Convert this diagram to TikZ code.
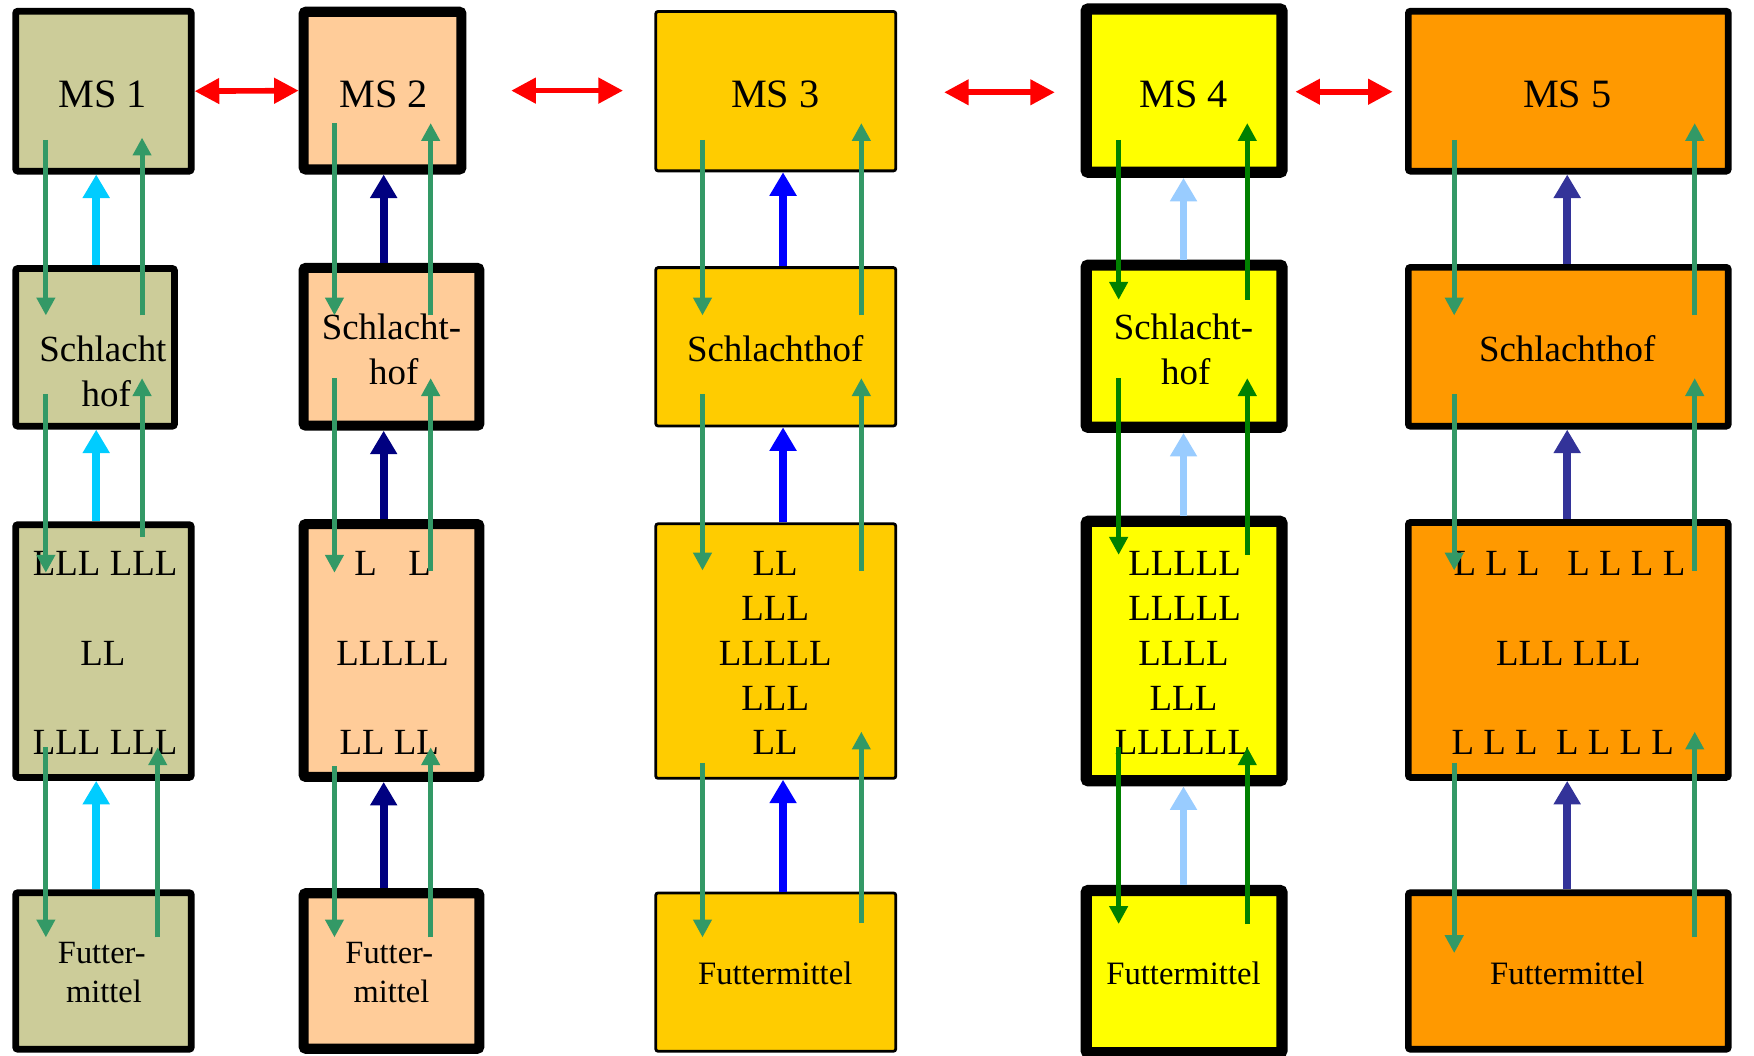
\documentclass[tikz,border=0pt]{standalone}
\usepackage{fontspec}
\setmainfont{Liberation Serif}
\usetikzlibrary{arrows.meta}
\definecolor{fillA}{HTML}{CCCC99}
\definecolor{fillB}{HTML}{FFCC99}
\definecolor{fillC}{HTML}{FFCC00}
\definecolor{fillD}{HTML}{FFFF00}
\definecolor{fillE}{HTML}{FF9900}
\definecolor{seaG}{HTML}{339966}
\definecolor{darkG}{HTML}{008000}
\definecolor{cyanA}{HTML}{00CCFF}
\definecolor{navyA}{HTML}{000080}
\definecolor{blueA}{HTML}{0000FF}
\definecolor{lblueA}{HTML}{99CCFF}
\definecolor{indA}{HTML}{333399}
\newcommand\bx[7]{%
  \pgfmathsetmacro\bcx{(#2+#4)/2}%
  \pgfmathsetmacro\bcy{(#3+#5)/2}%
  \pgfmathsetmacro\bww{(#4-#2-#6)*0.5}%
  \pgfmathsetmacro\bhh{(#5-#3-#6)*0.5}%
  \pgfmathsetmacro\blw{#6*0.5}%
  \node[draw, fill=#7, line width=\blw pt, rounded corners=1pt, minimum width=\bww pt, minimum height=\bhh pt, inner sep=0pt] (#1) at (\bcx,\bcy) {};%
}
\begin{document}
\begin{tikzpicture}[x=0.5pt,y=-0.5pt,
  tx/.style={inner sep=0pt, font=\fontsize{16.5}{20}\selectfont},
  mstx/.style={inner sep=0pt, font=\fontsize{18}{20}\selectfont},
  ftx/.style={inner sep=0pt, font=\fontsize{14.5}{17}\selectfont},
  ftxb/.style={inner sep=0pt, font=\fontsize{14.6}{18}\selectfont},
  gr/.style={draw=seaG, line width=2.2pt, -{Triangle[width=8pt,length=8pt]}},
  dg/.style={draw=darkG, line width=2.2pt, -{Triangle[width=8pt,length=8pt]}},
  fat/.style={draw=#1, line width=3.5pt, -{Triangle[width=11.5pt,length=10.5pt]}},
  redarr/.style={draw=red, line width=2.5pt, {Triangle[width=11pt,length=11pt]}-{Triangle[width=11pt,length=11pt]}}
]
\useasboundingbox (0,0) rectangle (1568,944);
% ---------- boxes ----------
\bx{m1}{11}{7}{174}{156}{6}{fillA}
\bx{s1}{11}{237}{159}{384}{6}{fillA}
\bx{l1}{11}{466}{174}{698}{6}{fillA}
\bx{f1}{11}{795}{174}{941}{6}{fillA}
\bx{m2}{267}{6}{417}{156}{9}{fillB}
\bx{s2}{267}{235}{433}{385}{9}{fillB}
\bx{l2}{267}{464}{433}{699}{9}{fillB}
\bx{f2}{267}{794}{433}{942}{9}{fillB}
\bx{m3}{585}{9}{802}{154}{2.5}{fillC}
\bx{s3}{585}{238}{802}{382}{2.5}{fillC}
\bx{l3}{585}{467}{802}{697}{2.5}{fillC}
\bx{f3}{585}{797}{802}{941}{2.5}{fillC}
\bx{m4}{966}{3}{1151}{159}{10}{fillD}
\bx{s4}{966}{232}{1151}{387}{10}{fillD}
\bx{l4}{966}{461}{1151}{703}{10}{fillD}
\bx{f4}{966}{791}{1151}{946}{10}{fillD}
\bx{m5}{1256}{7}{1548}{156}{6}{fillE}
\bx{s5}{1256}{236}{1548}{384}{6}{fillE}
\bx{l5}{1256}{464}{1548}{698}{6}{fillE}
\bx{f5}{1256}{795}{1548}{941}{6}{fillE}
% ---------- texts ----------
\node[mstx] (t1) at (92,84) {MS 1};
\node[tx] (t1a) at (92,312) {Schlacht};
\node[tx] (t1b) at (95,352) {hof};
\node[tx] (t1c) at (94,504) {LLL LLL};
\node[tx] (t1d) at (92,584) {LL};
\node[tx] (t1e) at (94,664) {LLL LLL};
\node[ftx] (t1f) at (91,852) {Futter-};
\node[ftx] (t1g) at (93,886) {mittel};
\node[mstx] (t2) at (343,84) {MS 2};
\node[tx] (t2a) at (350,292) {Schlacht-};
\node[tx] (t2b) at (352,332) {hof};
\node[tx] (t2c) at (351,504) {L\hspace{14pt}L};
\node[tx] (t2d) at (351,584) {LLLLL};
\node[tx] (t2e) at (348,664) {LL LL};
\node[ftx] (t2f) at (348,852) {Futter-};
\node[ftx] (t2g) at (350,886) {mittel};
\node[mstx] (t3) at (693,84) {MS 3};
\node[tx] (t3a) at (693,312) {Schlachthof};
\node[tx] (t3c) at (693,504) {LL};
\node[tx] (t3d) at (693,544) {LLL};
\node[tx] (t3e) at (693,584) {LLLLL};
\node[tx] (t3f) at (693,624) {LLL};
\node[tx] (t3g) at (693,664) {LL};
\node[ftxb] (t3h) at (693,870) {Futtermittel};
\node[mstx] (t4) at (1058,84) {MS 4};
\node[tx] (t4a) at (1058,292) {Schlacht-};
\node[tx] (t4b) at (1060,332) {hof};
\node[tx] (t4c) at (1059,504) {LLLLL};
\node[tx] (t4d) at (1059,544) {LLLLL};
\node[tx] (t4e) at (1058,584) {LLLL};
\node[tx] (t4f) at (1058,624) {LLL};
\node[tx] (t4g) at (1057,664) {LLLLLL};
\node[ftxb] (t4h) at (1058,870) {Futtermittel};
\node[mstx] (t5) at (1401,84) {MS 5};
\node[tx] (t5a) at (1401,312) {Schlachthof};
\node[tx] (t5c) at (1403,504) {L L L\ \ \ L L L L};
\node[tx] (t5d) at (1402,584) {LLL LLL};
\node[tx] (t5e) at (1397,664) {L L L\ \ L L L L};
\node[ftxb] (t5h) at (1401,870) {Futtermittel};
% ---------- red arrows ----------
\draw[redarr] (m1.east) -- (m2.west);
\draw[redarr, shorten <=20pt, shorten >=14pt] (m2.east) -- (m2.east -| m3.west);
\draw[redarr, shorten <=21pt, shorten >=11.5pt] ([yshift=-0.5pt]m3.east) -- ([yshift=-0.5pt]m3.east -| m4.west);
\draw[redarr, shorten <=3.5pt, shorten >=5.5pt] ([yshift=-0.5pt]m4.east -| m4.east) -- ([yshift=-0.5pt]m4.east -| m5.west);
% ---------- thick vertical arrows ----------
\coordinate (x1) at (86,0);
\coordinate (x2) at (343,0);
\coordinate (x3) at (700,0);
\coordinate (x4) at (1058,0);
\coordinate (x5) at (1401,0);
\foreach \c/\col in {1/cyanA,2/navyA,3/blueA,4/lblueA,5/indA}{
  \draw[fat=\col] (x\c |- s\c.north) -- (x\c |- m\c.south);
  \draw[fat=\col] (x\c |- l\c.north) -- (x\c |- s\c.south);
  \draw[fat=\col] (x\c |- f\c.north) -- (x\c |- l\c.south);
}
% ---------- green arrows ----------
% column 1
\draw[gr] (41,125) -- (41,282);
\draw[gr] (127,282) -- (127,123);
\draw[gr] (41,352) -- (41,512);
\draw[gr] (127,480) -- (127,338);
\draw[gr] (41,668) -- (41,838);
\draw[gr] (141,838) -- (141,668);
% column 2
\draw[gr] (299,110) -- (299,282);
\draw[gr] (385,282) -- (385,110);
\draw[gr] (299,338) -- (299,512);
\draw[gr] (385,510) -- (385,338);
\draw[gr] (299,685) -- (299,838);
\draw[gr] (385,838) -- (385,668);
% column 3
\draw[gr] (628,125) -- (628,282);
\draw[gr] (770,282) -- (770,110);
\draw[gr] (628,352) -- (628,510);
\draw[gr] (770,510) -- (770,338);
\draw[gr] (628,682) -- (628,838);
\draw[gr] (770,825) -- (770,654);
% column 4
\draw[dg] (1000,125) -- (1000,268);
\draw[dg] (1115,268) -- (1115,110);
\draw[dg] (1000,338) -- (1000,496);
\draw[dg] (1115,496) -- (1115,338);
\draw[dg] (1000,668) -- (1000,826);
\draw[dg] (1115,826) -- (1115,668);
% column 5
\draw[gr] (1300,125) -- (1300,282);
\draw[gr] (1515,282) -- (1515,110);
\draw[gr] (1300,352) -- (1300,510);
\draw[gr] (1515,510) -- (1515,338);
\draw[gr] (1300,682) -- (1300,852);
\draw[gr] (1515,838) -- (1515,654);
\end{tikzpicture}
\end{document}
